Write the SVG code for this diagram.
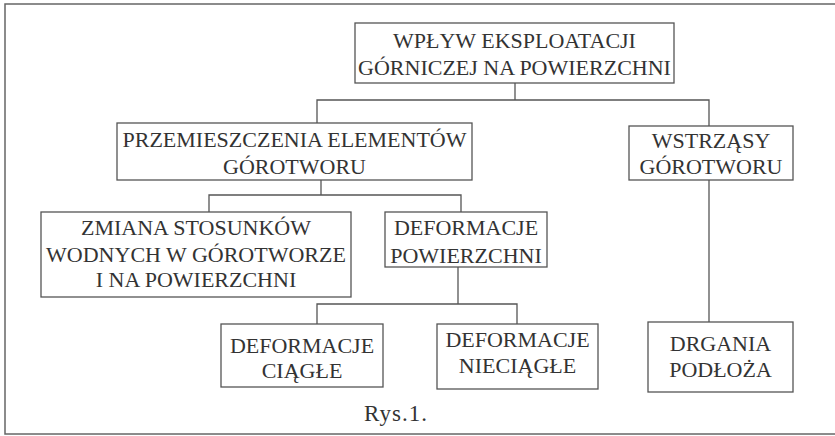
<svg xmlns="http://www.w3.org/2000/svg" width="835" height="436" viewBox="0 0 835 436">
<style>
.box{fill:none;stroke:#555;stroke-width:1.3}
.ln{fill:none;stroke:#555;stroke-width:1.3}
.t{font-family:"Liberation Serif","Times New Roman",serif;font-size:22px;fill:#333;text-anchor:middle}
</style>
<rect x="0" y="0" width="835" height="436" fill="#ffffff"/>
<rect x="5" y="4" width="840" height="430" fill="none" stroke="#666" stroke-width="1.5"/>
<g id="connectors">
<polyline class="ln" points="515,83 515,100"/>
<polyline class="ln" points="317,123 317,100 709,100 709,126"/>
<polyline class="ln" points="321,180 321,195"/>
<polyline class="ln" points="209,212 209,195 461,195 461,212"/>
<polyline class="ln" points="458,267 458,304"/>
<polyline class="ln" points="317,324 317,304 517,304 517,324"/>
<polyline class="ln" points="709,180 709,322"/>
</g>
<g id="n-wplyw">
<rect class="box" x="355" y="23" width="319" height="60"/>
<text class="t" x="514.5" y="48">WPŁYW EKSPLOATACJI</text>
<text class="t" x="514.5" y="75">GÓRNICZEJ NA POWIERZCHNI</text>
</g>
<g id="n-przem">
<rect class="box" x="117" y="123" width="355" height="57"/>
<text class="t" x="294.5" y="147">PRZEMIESZCZENIA ELEMENTÓW</text>
<text class="t" x="294.5" y="174">GÓROTWORU</text>
</g>
<g id="n-wstrz">
<rect class="box" x="629" y="126" width="164" height="54"/>
<text class="t" x="711" y="148">WSTRZĄSY</text>
<text class="t" x="711" y="174">GÓROTWORU</text>
</g>
<g id="n-zmiana">
<rect class="box" x="41" y="212" width="310" height="85"/>
<text class="t" x="196" y="235">ZMIANA STOSUNKÓW</text>
<text class="t" x="196" y="262">WODNYCH W GÓROTWORZE</text>
<text class="t" x="196" y="287">I NA POWIERZCHNI</text>
</g>
<g id="n-defpow">
<rect class="box" x="385" y="212" width="162" height="55"/>
<text class="t" x="466" y="235">DEFORMACJE</text>
<text class="t" x="466" y="263">POWIERZCHNI</text>
</g>
<g id="n-defciag">
<rect class="box" x="221" y="324" width="162" height="63"/>
<text class="t" x="302" y="353">DEFORMACJE</text>
<text class="t" x="302" y="378">CIĄGŁE</text>
</g>
<g id="n-defnieciag">
<rect class="box" x="437" y="324" width="161" height="65"/>
<text class="t" x="517.5" y="347">DEFORMACJE</text>
<text class="t" x="517.5" y="373">NIECIĄGŁE</text>
</g>
<g id="n-drgania">
<rect class="box" x="648" y="322" width="145" height="70"/>
<text class="t" x="720.5" y="351">DRGANIA</text>
<text class="t" x="720.5" y="377">PODŁOŻA</text>
</g>
<text class="t" x="396" y="421" style="font-size:23px;letter-spacing:1px">Rys.1.</text>
</svg>
